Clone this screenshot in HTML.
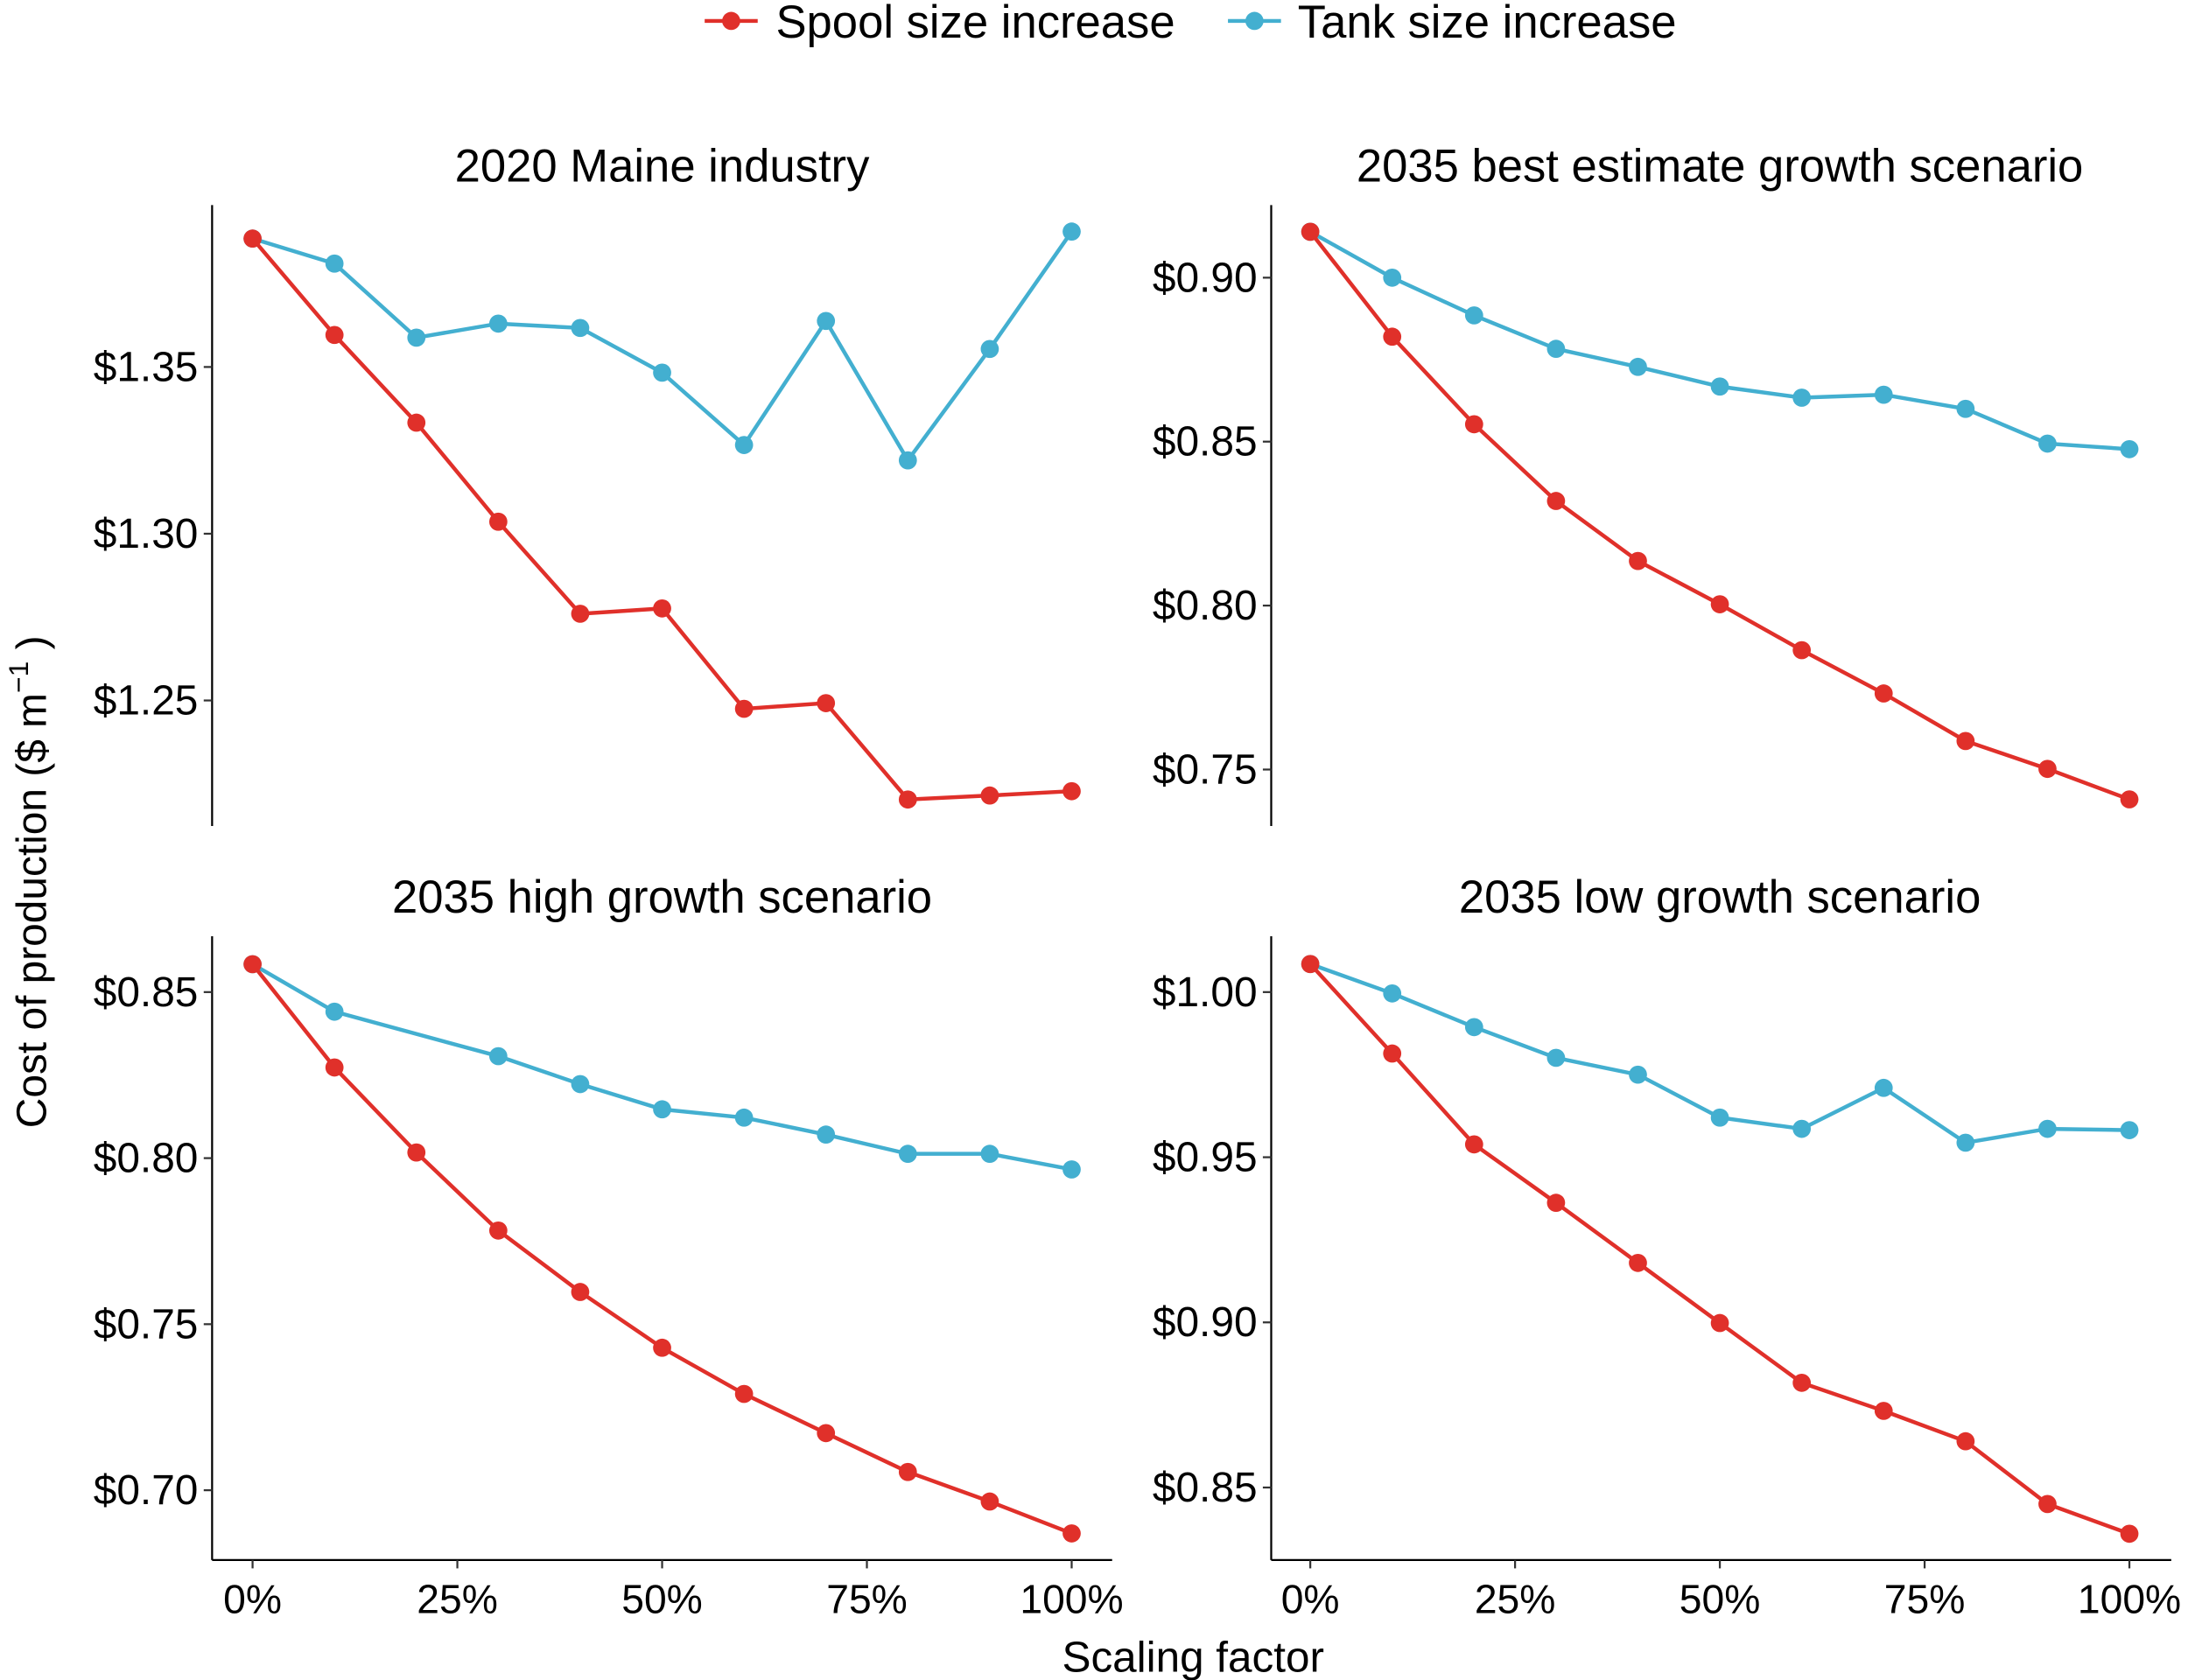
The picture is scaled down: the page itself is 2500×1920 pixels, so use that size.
<!DOCTYPE html>
<html><head><meta charset="utf-8"><style>
html,body{margin:0;padding:0;background:#fff;}
svg{display:block;}
text{font-family:"Liberation Sans",sans-serif;fill:#000;}
</style></head><body>
<svg id="chart" width="2500" height="1920" viewBox="0 0 1568 1204" preserveAspectRatio="none" xmlns="http://www.w3.org/2000/svg">
<g>
  <line x1="505" y1="15" x2="543" y2="15" stroke="#e0302a" stroke-width="2.8"/>
  <circle cx="524" cy="15" r="6.5" fill="#e0302a"/>
  <text x="556" y="27" font-size="33">Spool size increase</text>
  <line x1="880" y1="15" x2="918" y2="15" stroke="#43afd0" stroke-width="2.8"/>
  <circle cx="899" cy="15" r="6.5" fill="#43afd0"/>
  <text x="930" y="27" font-size="33">Tank size increase</text>
</g>
<text x="33" y="632" font-size="30" text-anchor="middle" transform="rotate(-90 33 632)">Cost of production ($ m<tspan dy="-13" font-size="20">−1</tspan><tspan dy="13"> )</tspan></text>
<text x="855" y="1198" font-size="31" text-anchor="middle">Scaling factor</text>
<g id="panels"></g>
</svg>
<script>
const scales = [0,0.1,0.2,0.3,0.4,0.5,0.6,0.7,0.8,0.9,1.0];
const xTickValues = [0,0.25,0.5,0.75,1];
const xTickLabels = ["0%","25%","50%","75%","100%"];
const panelTitles = ["2020 Maine industry","2035 best estimate growth scenario","2035 high growth scenario","2035 low growth scenario"];
const spoolMaine = [1.3885,1.3596,1.3333,1.3036,1.276,1.2776,1.2475,1.2492,1.2203,1.2215,1.2228];
const tankMaine = [1.3885,1.381,1.3588,1.363,1.3617,1.3483,1.3266,1.3638,1.322,1.3554,1.3906];
const spoolBest = [0.914,0.882,0.8553,0.8319,0.8136,0.8004,0.7864,0.7732,0.7587,0.7502,0.7409];
const tankBest = [0.914,0.900,0.8885,0.8783,0.8728,0.8668,0.8634,0.8643,0.860,0.8494,0.8477];
const spoolHigh = [0.8584,0.8273,0.8017,0.7782,0.7597,0.7429,0.729,0.7172,0.7055,0.6966,0.687];
const tankHigh = [0.8584,0.8441,null,0.8307,0.8223,0.8147,0.8122,0.8071,0.8013,0.8013,0.7966];
const spoolLow = [1.0085,0.9814,0.9539,0.9362,0.918,0.8998,0.8817,0.8732,0.864,0.845,0.836];
const tankLow = [1.0085,0.9996,0.9894,0.9801,0.975,0.962,0.9586,0.971,0.9544,0.9586,0.9582];
const yTicksMaine = [1.25,1.30,1.35];
const yTicksBest = [0.75,0.80,0.85,0.90];
const yTicksHigh = [0.70,0.75,0.80,0.85];
const yTicksLow = [0.85,0.90,0.95,1.00];

const NS="http://www.w3.org/2000/svg";
const root=document.getElementById('panels');
function mk(tag,attrs,parent){const e=document.createElementNS(NS,tag);for(const k in attrs)e.setAttribute(k,attrs[k]);parent.appendChild(e);return e;}

const layouts=[
 {ax:152,x0:181,top:147,bot:592,refV:1.35,refY:263,ppu:2390,xaxis:false},
 {ax:911,x0:939,top:147,bot:592,refV:0.90,refY:199,ppu:2350,xaxis:false},
 {ax:152,x0:181,top:671,bot:1118,refV:0.85,refY:711,ppu:2380,xaxis:true},
 {ax:911,x0:939,top:671,bot:1118,refV:1.00,refY:711,ppu:2367,xaxis:true}
];
const spoolSets=[spoolMaine,spoolBest,spoolHigh,spoolLow];
const tankSets=[tankMaine,tankBest,tankHigh,tankLow];
const tickSets=[yTicksMaine,yTicksBest,yTicksHigh,yTicksLow];
const W=587;

layouts.forEach((L,i)=>{
  const g=mk('g',{},root);
  
  
  const xs=v=>L.x0+v*W;
  const ys=v=>L.refY-(v-L.refV)*L.ppu;
  const t=mk('text',{x:L.x0+W/2,y:L.top-17,'font-size':33,'text-anchor':'middle'},g);
  t.textContent=panelTitles[i];
  
  
  const ya=mk('line',{x1:L.ax,y1:L.top,x2:L.ax,y2:L.bot,stroke:'#000','stroke-width':1.4},g);
  
  
  tickSets[i].forEach(v=>{
    const y=ys(v);
    mk('line',{x1:L.ax-6,y1:y,x2:L.ax,y2:y,stroke:'#333','stroke-width':1.4},g);
    const tl=mk('text',{x:L.ax-10,y:y+10,'font-size':30,'text-anchor':'end',fill:'#111'},g);
    tl.textContent='$'+v.toFixed(2);
    
    
  });
  if(L.xaxis){
    const xa=mk('line',{x1:L.ax,y1:L.bot,x2:L.ax+645,y2:L.bot,stroke:'#000','stroke-width':1.4},g);
    
    
    xTickValues.forEach((v,k)=>{
      const x=xs(v);
      mk('line',{x1:x,y1:L.bot,x2:x,y2:L.bot+6,stroke:'#333','stroke-width':1.4},g);
      const xl=mk('text',{x:x,y:L.bot+38,'font-size':29,'text-anchor':'middle',fill:'#111'},g);
      xl.textContent=xTickLabels[k];
      
      
    });
  }
  [[tankSets[i],'#43afd0','tank'],[spoolSets[i],'#e0302a','spool']].forEach(([arr,col,nm])=>{
    const pts=[];
    arr.forEach((v,k)=>{if(v!==null)pts.push([xs(scales[k]),ys(v)]);});
    const pl=mk('polyline',{points:pts.map(p=>p.join(',')).join(' '),fill:'none',stroke:col,'stroke-width':2.8},g);
    
    
    pts.forEach(p=>{
      const c=mk('circle',{cx:p[0],cy:p[1],r:6.5,fill:col},g);
      
      
    });
  });
});
</script>
</body></html>
